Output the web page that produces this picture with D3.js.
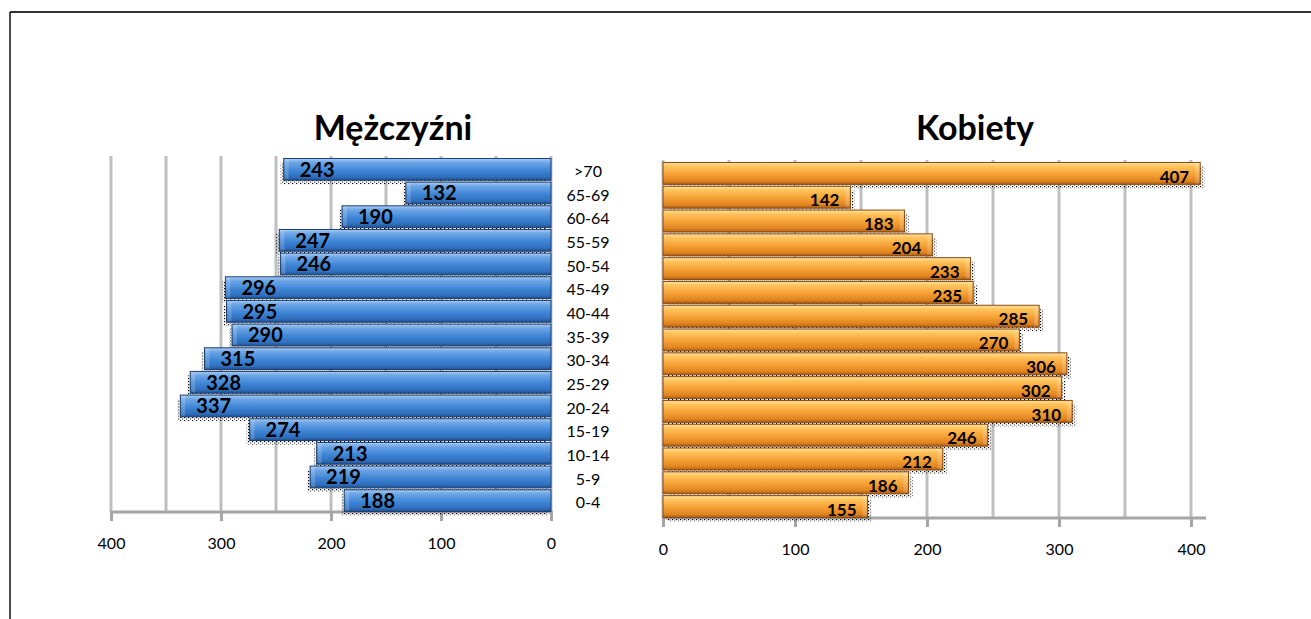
<!DOCTYPE html>
<html><head><meta charset="utf-8">
<script src="https://cdn.jsdelivr.net/npm/d3@7"></script>
<style>body{margin:0;background:#fff}svg{display:block}</style>
</head><body>
<svg id="c" width="1311" height="619"></svg>
<script>
const categories = [">70","65-69","60-64","55-59","50-54","45-49","40-44","35-39","30-34","25-29","20-24","15-19","10-14","5-9","0-4"];
const men = [243,132,190,247,246,296,295,290,315,328,337,274,213,219,188];
const women = [407,142,183,204,233,235,285,270,306,302,310,246,212,186,155];
const tickValues = [0,100,200,300,400];
const gridValues = [0,50,100,150,200,250,300,350,400];
const titles = ["Mężczyźni","Kobiety"];

const svg = d3.select("#c");
const defs = svg.append("defs");
function grad(id, stops){
  const g = defs.append("linearGradient").attr("id",id).attr("x1",0).attr("y1",0).attr("x2",0).attr("y2",1);
  stops.forEach(s=>g.append("stop").attr("offset",s[0]).attr("stop-color",s[1]));
}
grad("gBlue",[[0,"#a9cdf3"],[0.18,"#6ea6e6"],[0.55,"#3f86d6"],[0.85,"#2f6fbe"],[1,"#1f4f8e"]]);
grad("gOrange",[[0,"#ffe2a0"],[0.18,"#ffc45c"],[0.55,"#f5a035"],[0.85,"#e0841f"],[1,"#a85a14"]]);
const pat = defs.append("pattern").attr("id","dots").attr("width",4).attr("height",3).attr("patternUnits","userSpaceOnUse");
pat.append("rect").attr("width",1.2).attr("height",1.2).attr("fill","#000");
pat.append("rect").attr("x",2).attr("y",1.5).attr("width",1.2).attr("height",1.2).attr("fill","#555");

// frame
svg.append("line").attr("x1",10).attr("y1",12).attr("x2",1311).attr("y2",12).attr("stroke","#333").attr("stroke-width",2);
svg.append("line").attr("x1",10).attr("y1",12).attr("x2",10).attr("y2",619).attr("stroke","#111").attr("stroke-width",1.5);

const font = "Lato, 'Open Sans', sans-serif";

function panel(opts){
  const {x0,x1,domain,top,bottom,values,fill,stroke,mirror,title,titleX,labelSize,labelDy,axisEnd,shadowDx} = opts;
  const x = d3.scaleLinear().domain(domain).range([x0,x1]);
  const y = d3.scaleBand().domain(categories).range([top,bottom]).paddingInner(0.08).paddingOuter(0.02);
  const g = svg.append("g");
  // gridlines
  g.selectAll(".grid").data(gridValues).join("line")
    .attr("x1",d=>x(d)).attr("x2",d=>x(d)).attr("y1",top-2).attr("y2",bottom)
    .attr("stroke","#bfbfbf").attr("stroke-width",3);
  // axis
  const axis = d3.axisBottom(x).tickValues(tickValues).tickSize(9).tickFormat(d3.format("d"));
  const ag = g.append("g").attr("transform",`translate(0,${bottom})`).call(axis);
  ag.select(".domain").remove();
  ag.selectAll(".tick line").attr("stroke","#a6a6a6").attr("stroke-width",3).attr("y1",-1);
  ag.selectAll(".tick text").attr("y",26).attr("font-family",font).attr("font-size",16).attr("fill","#000");
  g.append("line").attr("x1",Math.min(x0,axisEnd)).attr("x2",Math.max(x0,axisEnd)).attr("y1",bottom).attr("y2",bottom)
    .attr("stroke","#a6a6a6").attr("stroke-width",3);
  const x0v = x(0);
  // shadows
  g.selectAll(".sh").data(values).join("rect")
    .attr("x",(d)=>Math.min(x0v,x(d))+shadowDx)
    .attr("y",(d,i)=>y(categories[i])+4)
    .attr("width",d=>Math.abs(x(d)-x0v))
    .attr("height",y.bandwidth())
    .attr("fill","url(#dots)");
  // bars
  g.selectAll(".bar").data(values).join("rect")
    .attr("x",d=>Math.min(x0v,x(d)))
    .attr("y",(d,i)=>y(categories[i]))
    .attr("width",d=>Math.abs(x(d)-x0v))
    .attr("height",y.bandwidth())
    .attr("fill",fill).attr("stroke",stroke).attr("stroke-width",1);
  // end highlight
  g.selectAll(".cap").data(values).join("rect")
    .attr("x",d=> mirror ? x(d)+1 : x(d)-5)
    .attr("y",(d,i)=>y(categories[i])+1)
    .attr("width",4)
    .attr("height",y.bandwidth()-2)
    .attr("fill","#fff").attr("opacity",0.18);
  // labels
  g.selectAll(".lbl").data(values).join("text")
    .attr("x",d=> mirror ? x(d)+16 : x(d)-11)
    .attr("y",(d,i)=>y(categories[i])+y.bandwidth()/2+labelDy)
    .attr("dy","0.36em")
    .attr("text-anchor", mirror ? "start" : "end")
    .attr("font-family",font).attr("font-weight","bold").attr("font-size",labelSize).attr("fill","#000")
    .text(d=>d);
  svg.append("text").attr("x",titleX).attr("y",140).attr("text-anchor","middle")
    .attr("font-family",font).attr("font-weight","bold").attr("font-size",34).attr("fill","#000").text(title);
  return y;
}

const yL = panel({x0:111,x1:551,domain:[400,0],top:158,bottom:512,values:men,fill:"url(#gBlue)",stroke:"#1d3f70",mirror:true,title:titles[0],titleX:393,labelSize:20,labelDy:0,axisEnd:551,shadowDx:-3});
panel({x0:663,x1:1191,domain:[0,400],top:162,bottom:518,values:women,fill:"url(#gOrange)",stroke:"#8a4a12",mirror:false,title:titles[1],titleX:975,labelSize:17,labelDy:3,axisEnd:1206,shadowDx:4});

// category labels
svg.append("g").selectAll("text").data(categories).join("text")
  .attr("x",588).attr("y",d=>yL(d)+yL.bandwidth()/2+2).attr("dy","0.36em")
  .attr("text-anchor","middle").attr("font-family",font).attr("font-size",16).attr("fill","#000")
  .text(d=>d);
</script>
</body></html>
